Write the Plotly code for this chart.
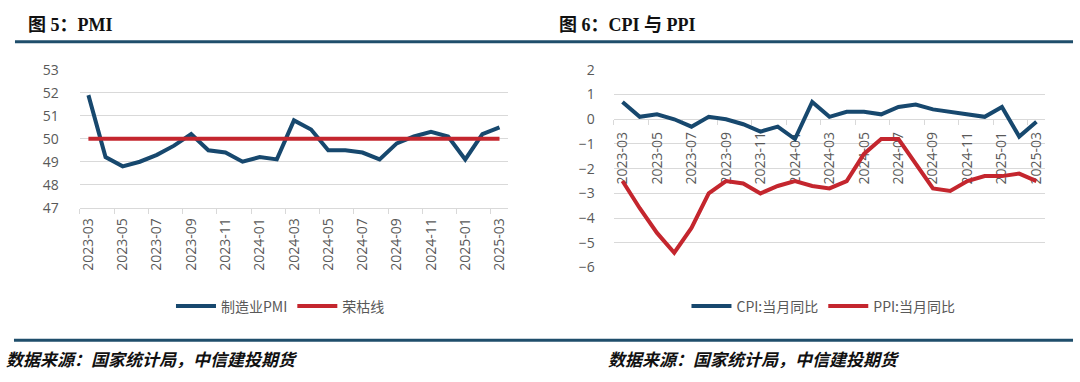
import plotly.graph_objects as go

months = ["2023-03", "2023-04", "2023-05", "2023-06", "2023-07", "2023-08", "2023-09",
          "2023-10", "2023-11", "2023-12", "2024-01", "2024-02", "2024-03", "2024-04",
          "2024-05", "2024-06", "2024-07", "2024-08", "2024-09", "2024-10", "2024-11",
          "2024-12", "2025-01", "2025-02", "2025-03"]
pmi = [51.9, 49.2, 48.8, 49.0, 49.3, 49.7, 50.2, 49.5, 49.4, 49.0, 49.2, 49.1, 50.8,
       50.4, 49.5, 49.5, 49.4, 49.1, 49.8, 50.1, 50.3, 50.1, 49.1, 50.2, 50.5]
rongku = [50, 50, 50, 50, 50, 50, 50, 50, 50, 50, 50, 50, 50, 50, 50, 50, 50, 50, 50,
          50, 50, 50, 50, 50, 50]
cpi = [0.7, 0.1, 0.2, 0.0, -0.3, 0.1, 0.0, -0.2, -0.5, -0.3, -0.8, 0.7, 0.1, 0.3, 0.3,
       0.2, 0.5, 0.6, 0.4, 0.3, 0.2, 0.1, 0.5, -0.7, -0.1]
ppi = [-2.5, -3.6, -4.6, -5.4, -4.4, -3.0, -2.5, -2.6, -3.0, -2.7, -2.5, -2.7, -2.8,
       -2.5, -1.4, -0.8, -0.8, -1.8, -2.8, -2.9, -2.5, -2.3, -2.3, -2.2, -2.5]

W, H = 1080, 382
BLUE = "#17486E"
RED = "#C4262E"
GRID = "#D9D9D9"
TXT = "#595959"
FONT = "Open Sans, Noto Sans CJK SC, sans-serif"
CJK = "Noto Sans CJK SC, sans-serif"
TITLEF = "Liberation Serif, Noto Sans CJK SC, serif"


def px(x):
    return x / W


def py(y):
    return 1 - y / H


fig = go.Figure()
fig.add_trace(go.Scatter(x=months, y=pmi, name="制造业PMI", mode="lines",
                         line=dict(color=BLUE, width=4), xaxis="x", yaxis="y",
                         legend="legend"))
fig.add_trace(go.Scatter(x=months, y=rongku, name="荣枯线", mode="lines",
                         line=dict(color=RED, width=4), xaxis="x", yaxis="y",
                         legend="legend"))
fig.add_trace(go.Scatter(x=months, y=cpi, name="CPI:当月同比", mode="lines",
                         line=dict(color=BLUE, width=4), xaxis="x2", yaxis="y2",
                         legend="legend2"))
fig.add_trace(go.Scatter(x=months, y=ppi, name="PPI:当月同比", mode="lines",
                         line=dict(color=RED, width=4), xaxis="x2", yaxis="y2",
                         legend="legend2"))

tickfont = dict(family=FONT, size=14, color=TXT)

fig.update_layout(
    width=W, height=H,
    margin=dict(l=0, r=0, t=0, b=0),
    paper_bgcolor="white", plot_bgcolor="white",
    showlegend=True,
    hovermode=False,
    xaxis=dict(domain=[px(78), px(507)], anchor="y", type="category",
               range=[-0.5, 24.5], tick0=0, dtick=2, tickangle=-90,
               tickson="boundaries", ticks="outside", ticklen=5, tickcolor=GRID,
               showline=True, linecolor=GRID, linewidth=1, showgrid=False,
               tickfont=tickfont, ticklabelstandoff=4),
    yaxis=dict(domain=[py(208), py(63)], anchor="x", range=[47, 53], dtick=1,
               showgrid=True, gridcolor=GRID, gridwidth=1, zeroline=False,
               tickfont=tickfont, ticks="", ticklabelstandoff=20),
    xaxis2=dict(domain=[px(613), px(1045)], anchor="free", position=py(115),
                type="category", range=[-0.5, 24.5], tick0=0, dtick=2,
                tickangle=-90, tickson="boundaries", ticks="outside", ticklen=5,
                tickcolor=GRID, showline=True, linecolor=GRID, linewidth=1,
                showgrid=False, tickfont=dict(family=FONT, size=14, color=TXT),
                ticklabelstandoff=6, layer="below traces"),
    yaxis2=dict(domain=[py(271), py(63)], anchor="x2", range=[-6, 2], dtick=1,
                showgrid=True, gridcolor=GRID, gridwidth=1, zeroline=False,
                tickfont=tickfont, ticks="", ticklabelstandoff=18),
    legend=dict(orientation="h", x=px(279), xanchor="center", y=py(312),
                yanchor="middle", font=dict(family=CJK, size=14, color=TXT),
                bgcolor="rgba(0,0,0,0)", itemwidth=40),
    legend2=dict(orientation="h", x=px(823), xanchor="center", y=py(312),
                 yanchor="middle", font=dict(family=CJK, size=14, color=TXT),
                 bgcolor="rgba(0,0,0,0)", itemwidth=40),
)

# header / footer rules
fig.add_shape(type="line", xref="paper", yref="paper", x0=px(13), x1=px(1073),
              y0=py(33.5), y1=py(33.5), line=dict(color="#1F4E6B", width=3))
fig.add_shape(type="line", xref="paper", yref="paper", x0=px(12), x1=px(1073),
              y0=py(347.5), y1=py(347.5), line=dict(color="#1F4E6B", width=3))

# titles
fig.add_annotation(text="<b>图 5：PMI</b>", xref="paper", yref="paper",
                   x=px(24), y=py(16), xanchor="left", yanchor="middle",
                   showarrow=False, font=dict(family=TITLEF, size=18, color="#111111"))
fig.add_annotation(text="<b>图 6：CPI 与 PPI</b>", xref="paper", yref="paper",
                   x=px(556), y=py(16), xanchor="left", yanchor="middle",
                   showarrow=False, font=dict(family=TITLEF, size=18, color="#111111"))

# footers
for xs in (2, 605):
    fig.add_annotation(text="<b><i>数据来源：国家统计局，中信建投期货</i></b>",
                       xref="paper", yref="paper", x=px(xs), y=py(367),
                       xanchor="left", yanchor="middle", showarrow=False,
                       font=dict(family=CJK, size=17, color="#111111"))

fig.write_html(
    "out.html",
    config={"displayModeBar": False, "staticPlot": True},
    post_script="document.documentElement.style.margin='0';"
                "document.body.style.margin='0';"
                "document.body.style.overflow='hidden';",
)
